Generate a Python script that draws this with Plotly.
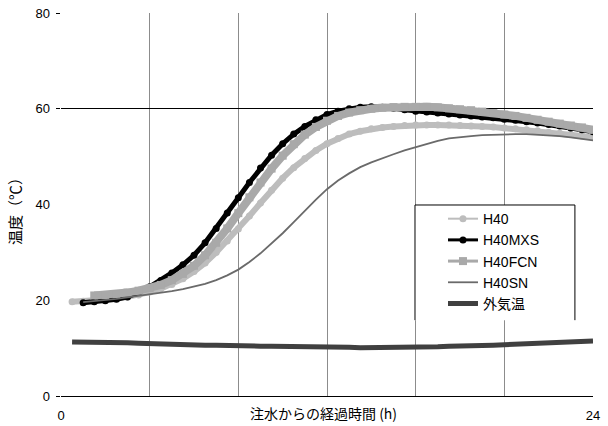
import plotly.graph_objects as go

# ---- data (hours after water injection, temperature in deg C) ----
hours = [0, 0.5, 1, 1.5, 2, 2.5, 3, 3.5, 4, 4.5, 5, 5.5, 6, 6.5, 7, 7.5, 8, 8.5, 9, 9.5,
         10, 10.5, 11, 11.5, 12, 12.5, 13, 13.5, 14, 14.5, 15, 15.5, 16, 16.5, 17, 17.5,
         18, 18.5, 19, 19.5, 20, 20.5, 21, 21.5, 22, 22.5, 23, 23.5, 24]

h40 = [None, 19.7, 19.8, 19.9, 20.1, 20.3, 20.7, 21.1, 21.7, 22.4, 23.3, 24.5, 26.0, 27.8,
       30.0, 32.4, 34.9, 37.6, 40.3, 43.0, 45.5, 47.7, 49.6, 51.3, 52.7, 53.8, 54.7, 55.3,
       55.8, 56.1, 56.3, 56.5, 56.6, 56.6, 56.6, 56.6, 56.5, 56.4, 56.3, 56.2, 56.0, 55.8,
       55.6, 55.4, 55.1, 54.9, 54.6, 54.3, 54.0]

h40mxs = [None, None, 19.5, 19.7, 19.9, 20.2, 20.7, 21.6, 22.8, 24.1, 25.7, 27.4, 29.4, 32.0,
          35.0, 38.2, 41.4, 44.6, 47.6, 50.3, 52.7, 54.7, 56.3, 57.7, 58.8, 59.5, 60.0, 60.3,
          60.4, 60.3, 60.1, 59.8, 59.5, 59.3, 59.1, 58.9, 58.7, 58.5, 58.3, 58.1, 57.8, 57.6,
          57.3, 57.0, 56.7, 56.4, 56.0, 55.6, 55.2]

h40fcn = [None, None, None, 21.0, 21.1, 21.3, 21.6, 22.0, 22.5, 23.2, 24.2, 25.5, 27.2, 29.4,
          32.0, 35.0, 38.2, 41.5, 44.6, 47.5, 50.2, 52.6, 54.6, 56.2, 57.5, 58.5, 59.2, 59.7,
          60.0, 60.2, 60.35, 60.4, 60.4, 60.4, 60.3, 60.1, 59.9, 59.7, 59.4, 59.1, 58.8, 58.5,
          58.1, 57.7, 57.3, 56.9, 56.5, 56.1, 55.6]

h40sn = [None, None, 19.6, 19.8, 20.0, 20.3, 20.6, 20.9, 21.2, 21.5, 21.9, 22.3, 22.8, 23.4,
         24.2, 25.2, 26.4, 28.0, 29.8, 31.8, 34.0, 36.3, 38.7, 41.0, 43.2, 45.0, 46.5, 47.8,
         48.8, 49.7, 50.5, 51.3, 52.0, 52.7, 53.3, 53.8, 54.1, 54.3, 54.5, 54.6, 54.7, 54.7,
         54.7, 54.6, 54.5, 54.3, 54.0, 53.7, 53.4]

outside = [None, 11.3, 11.3, 11.2, 11.3, 11.3, 11.1, 11.0, 10.9, 10.9, 10.8, 10.8, 10.7, 10.6,
           10.6, 10.5, 10.5, 10.5, 10.4, 10.4, 10.4, 10.3, 10.3, 10.3, 10.2, 10.2, 10.2, 10.1,
           10.1, 10.1, 10.2, 10.2, 10.2, 10.3, 10.3, 10.4, 10.4, 10.4, 10.5, 10.6, 10.7, 10.8,
           10.9, 11.0, 11.1, 11.2, 11.3, 11.4, 11.5]

names = ["H40", "H40MXS", "H40FCN", "H40SN", "外気温"]
x_ticks = [0, 24]
y_ticks = [0, 20, 40, 60, 80]

C_H40 = "#bdbdbd"
C_MXS = "#000000"
C_FCN = "#a9a9a9"
C_SN = "#6a6a6a"
C_OUT = "#404040"
GRID = "#8c8c8c"
FONT = "Liberation Sans, Noto Sans CJK JP, sans-serif"

fig = go.Figure()

# data traces (thick bands imitate densely packed markers)
fig.add_trace(go.Scatter(x=hours, y=h40, mode="lines+markers", showlegend=False,
                         line=dict(color=C_H40, width=6),
                         marker=dict(symbol="circle", size=7, color=C_H40)))
fig.add_trace(go.Scatter(x=hours, y=h40mxs, mode="lines+markers", showlegend=False,
                         line=dict(color=C_MXS, width=5),
                         marker=dict(symbol="circle", size=7, color=C_MXS)))
fig.add_trace(go.Scatter(x=hours, y=h40fcn, mode="lines+markers", showlegend=False,
                         line=dict(color=C_FCN, width=8),
                         marker=dict(symbol="square", size=8, color=C_FCN)))
fig.add_trace(go.Scatter(x=hours, y=h40sn, mode="lines", showlegend=False,
                         line=dict(color=C_SN, width=1.8)))
fig.add_trace(go.Scatter(x=hours, y=outside, mode="lines", showlegend=False,
                         line=dict(color=C_OUT, width=5)))

# legend entries
leg_styles = [
    dict(mode="lines+markers", line=dict(color=C_H40, width=2),
         marker=dict(symbol="circle", size=7, color=C_H40)),
    dict(mode="lines+markers", line=dict(color=C_MXS, width=3),
         marker=dict(symbol="circle", size=7, color=C_MXS)),
    dict(mode="lines+markers", line=dict(color=C_FCN, width=3),
         marker=dict(symbol="square", size=8, color=C_FCN)),
    dict(mode="lines", line=dict(color=C_SN, width=1.8)),
    dict(mode="lines", line=dict(color=C_OUT, width=5)),
]
for i, (nm, st) in enumerate(zip(names, leg_styles)):
    fig.add_trace(go.Scatter(x=[None], y=[None], name=nm, legendgroup=f"g{i}", **st))

# legend frame (white box, open at the bottom)
bx0, bx1, by0, by1 = 0.6654, 0.966, 0.198, 0.4987
fig.add_shape(type="rect", xref="paper", yref="paper", x0=bx0, x1=bx1, y0=by0, y1=by1,
              fillcolor="white", line=dict(width=0), layer="above")
fig.add_shape(type="path", xref="paper", yref="paper",
              path=f"M {bx0},{by0} L {bx0},{by1} L {bx1},{by1} L {bx1},{by0}",
              line=dict(color="black", width=1), layer="above")

fig.update_layout(
    width=608, height=426,
    margin=dict(l=61, r=15, t=13, b=30, autoexpand=False),
    plot_bgcolor="white", paper_bgcolor="white",
    font=dict(family=FONT, size=13, color="black"),
    legend=dict(x=0.718, y=0.5037, xanchor="left", yanchor="top",
                bgcolor="rgba(0,0,0,0)", borderwidth=0,
                traceorder="grouped", tracegroupgap=0,
                font=dict(size=14, family=FONT)),
    xaxis=dict(range=[0, 24], tickvals=x_ticks, showgrid=True, gridcolor=GRID, gridwidth=1,
               minor=dict(dtick=4, tick0=0, showgrid=True, gridcolor=GRID, gridwidth=1),
               showline=True, linecolor="black", linewidth=1, zeroline=False,
               automargin=False,
               ticks="", ticklabelstandoff=7, tickfont=dict(size=13)),
    yaxis=dict(range=[0, 80], tickvals=y_ticks, showgrid=False, zeroline=False,
               showline=False, ticks="", ticklabelstandoff=10, tickfont=dict(size=13),
               automargin=False,
               minor=dict(tickmode="array", tickvals=[0, 60, 80], showgrid=True,
                          gridcolor="black", gridwidth=1, ticks="outside", ticklen=4,
                          tickcolor="black")),
    annotations=[
        dict(text="注水からの経過時間 (h)", xref="paper", yref="paper",
             x=0.4925, y=-0.045, xanchor="center", yanchor="middle", showarrow=False,
             font=dict(size=14, family="Noto Sans CJK JP")),
        dict(text="温度（℃）", xref="paper", yref="paper", textangle=-90,
             x=-0.0865, y=0.4935, xanchor="center", yanchor="middle", showarrow=False,
             font=dict(size=15, family="Noto Sans CJK JP")),
    ],
)

fig.write_html("out.html")
